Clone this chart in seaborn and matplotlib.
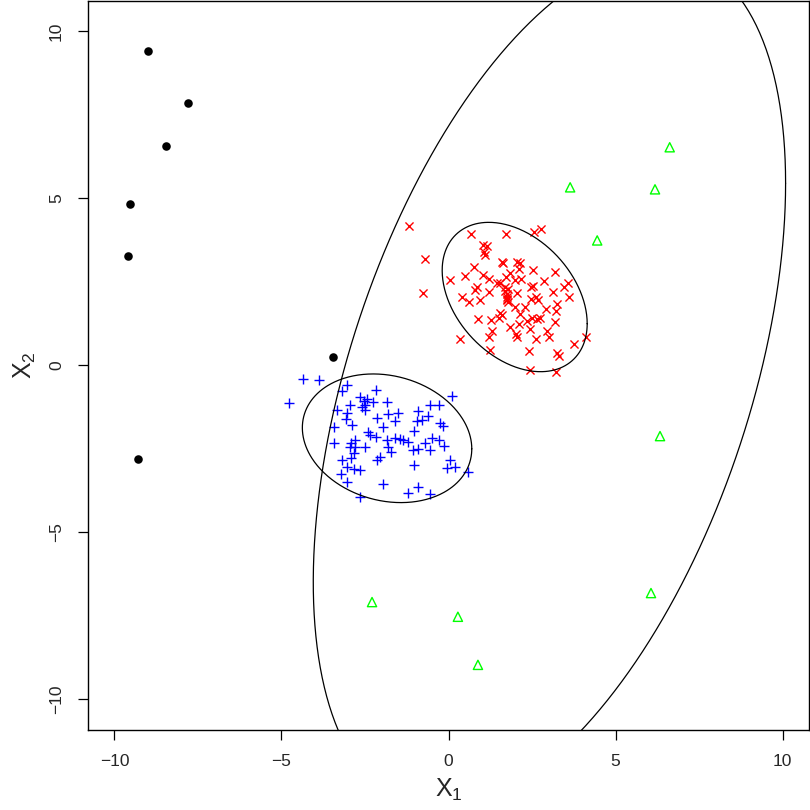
import numpy as np
import pandas as pd
import matplotlib
matplotlib.use("Agg")
import matplotlib.pyplot as plt
import seaborn as sns

# --- data ---
black_x = [-9.00, -7.80, -8.47, -9.53, -9.58, -9.31, -3.46]
black_y = [9.41, 7.85, 6.57, 4.81, 3.25, -2.81, 0.24]

green_x = [6.62, 3.64, 6.18, 4.45, 6.33, 6.06, -2.29, 0.28, 0.88]
green_y = [6.52, 5.32, 5.26, 3.73, -2.13, -6.83, -7.10, -7.54, -8.98]

blue_x = [-4.344, -3.865, -4.773, -3.047, -3.197, -2.170, -2.648, -2.529, -2.499, -2.250,
          -1.831, 0.114, -0.554, -0.275, -2.948, -3.347, -3.047, -2.499, -0.903, -1.501,
          -1.801, -2.130, -3.067, -1.601, -0.604, -0.953, -0.803, -0.255, -0.155, -3.426,
          -2.898, -1.950, -1.043, -2.399, -2.349, -2.170, -2.798, -2.918, -3.426, -1.851,
          -1.601, -1.452, -1.352, -1.202, -0.504, -0.275, -0.704, -0.125, -2.948, -2.499,
          -1.821, -1.731, -1.073, -0.903, -0.554, -2.050, -2.828, -2.928, -3.177, -2.150,
          -3.047, -2.828, -2.648, -3.217, -1.023, 0.045, -0.055, 0.184, 0.593, -3.047,
          -1.950, -0.903, -1.202, -0.554, -2.648, -2.599, -2.449, -2.798]
blue_y = [-0.429, -0.449, -1.147, -0.599, -0.768, -0.748, -0.948, -1.068, -1.197, -1.098,
          -1.098, -0.928, -1.197, -1.197, -1.197, -1.347, -1.447, -1.347, -1.367, -1.427,
          -1.467, -1.597, -1.627, -1.667, -1.517, -1.686, -1.656, -1.746, -1.836, -1.846,
          -1.806, -1.846, -1.966, -1.996, -2.096, -2.165, -2.245, -2.325, -2.345, -2.245,
          -2.195, -2.225, -2.245, -2.295, -2.195, -2.245, -2.345, -2.415, -2.445, -2.465,
          -2.465, -2.595, -2.545, -2.525, -2.545, -2.764, -2.644, -2.794, -2.844, -2.844,
          -3.044, -3.124, -3.144, -3.263, -2.994, -2.844, -3.094, -3.064, -3.194, -3.493,
          -3.573, -3.643, -3.822, -3.872, -3.942, -1.247, -1.028, -2.465]

red_x = [-1.172, 0.663, 1.721, 2.569, 2.758, -0.703, -0.773, 1.023, 1.142, 1.062,
         1.092, 1.591, 1.641, 2.040, 2.140, 2.120, 2.519, 3.187, 0.763, 0.494,
         0.045, 1.023, 1.222, 1.541, 1.721, 1.840, 1.990, 2.160, 2.858, 3.586,
         3.456, 0.793, 0.863, 1.222, 1.441, 1.691, 1.791, 1.741, 2.060, 2.459,
         2.519, 3.117, 0.394, 0.624, 0.943, 1.741, 1.990, 2.289, 2.459, 2.618,
         2.688, 2.918, 3.237, 3.616, 3.217, 0.893, 1.262, 1.521, 1.591, 2.140,
         2.339, 2.120, 2.489, 2.658, 2.738, 3.187, 1.292, 1.222, 1.840, 2.020,
         2.040, 2.439, 2.618, 2.938, 3.017, 0.344, 1.242, 2.419, 3.257, 3.317,
         3.756, 4.115, 2.439, 3.217, 1.761, 1.691, 1.741, 1.541, 1.791]
red_y = [4.162, 3.912, 3.922, 3.992, 4.062, 3.164, 2.166, 3.593, 3.563, 3.394,
         3.294, 3.094, 3.044, 3.094, 3.064, 2.865, 2.845, 2.795, 2.924, 2.665,
         2.545, 2.695, 2.565, 2.465, 2.645, 2.745, 2.545, 2.565, 2.525, 2.465,
         2.346, 2.246, 2.326, 2.196, 2.465, 2.226, 2.266, 2.126, 2.146, 2.326,
         2.366, 2.196, 2.046, 1.897, 1.946, 1.946, 1.747, 1.747, 1.966, 2.026,
         1.946, 1.667, 1.827, 2.026, 1.627, 1.368, 1.348, 1.398, 1.497, 1.527,
         1.328, 1.228, 1.398, 1.368, 1.398, 1.298, 1.028, 0.849, 1.128, 0.929,
         0.849, 1.068, 0.769, 1.028, 0.849, 0.769, 0.449, 0.429, 0.369, 0.270,
         0.619, 0.829, -0.150, -0.199, 1.966, 2.326, 2.026, 1.547, 1.897]

# ellipse centres and shape matrices [sxx, sxy, syy]
ell_center = [(-1.84, -2.195), (1.98, 2.035), (3.02, -0.53)]
ell_shape = [(6.43, -0.80, 3.71), (4.71, -1.73, 5.00), (49.97, 42.23, 163.9)]

ticks = [-10, -5, 0, 5, 10]
tick_labels = ['\u221210', '\u22125', '0', '5', '10']

# --- plot ---
sns.set_style("ticks")
plt.rcParams['font.family'] = ['Liberation Sans', 'DejaVu Sans']
plt.rcParams['mathtext.fontset'] = 'custom'
plt.rcParams['mathtext.rm'] = 'Liberation Sans'
plt.rcParams['mathtext.it'] = 'Liberation Sans'

fig = plt.figure(figsize=(8.1, 8.1), dpi=100)
ax = fig.add_axes([0.1083, 0.0988, 0.8909, 0.9004])

sns.scatterplot(x=black_x, y=black_y, ax=ax, color='black', marker='o', s=38,
                linewidth=0)
sns.scatterplot(x=green_x, y=green_y, ax=ax, marker='^', s=44, facecolors='none',
                edgecolor='#00ff00', linewidth=1.0)
sns.scatterplot(x=blue_x, y=blue_y, ax=ax, color='#0000ff', marker='+', s=60,
                linewidth=1.0)
sns.scatterplot(x=red_x, y=red_y, ax=ax, color='#ff0000', marker='x', s=34,
                linewidth=1.0)

t = np.linspace(0, 2 * np.pi, 400)
for (cx, cy), (sxx, sxy, syy) in zip(ell_center, ell_shape):
    L = np.linalg.cholesky(np.array([[sxx, sxy], [sxy, syy]]))
    pts = L @ np.vstack([np.cos(t), np.sin(t)])
    ax.plot(cx + pts[0], cy + pts[1], color='black', lw=0.9)

ax.set_xlim(-10.8, 10.8)
ax.set_ylim(-10.93, 10.91)
ax.set_xticks(ticks)
ax.set_yticks(ticks)
ax.set_xticklabels(tick_labels, fontsize=12.5)
ax.set_yticklabels(tick_labels, fontsize=12.5, rotation=90, va='center')
ax.tick_params(length=7, width=0.9, color='black', pad=10)
for sp in ax.spines.values():
    sp.set_visible(True)
    sp.set_color('black')
    sp.set_linewidth(1.0)

ax.set_xlabel(r'$\mathrm{X}_1$', fontsize=18, labelpad=6)
ax.set_ylabel(r'$\mathrm{X}_2$', fontsize=18, labelpad=8)

fig.savefig('out.png', dpi=100)
